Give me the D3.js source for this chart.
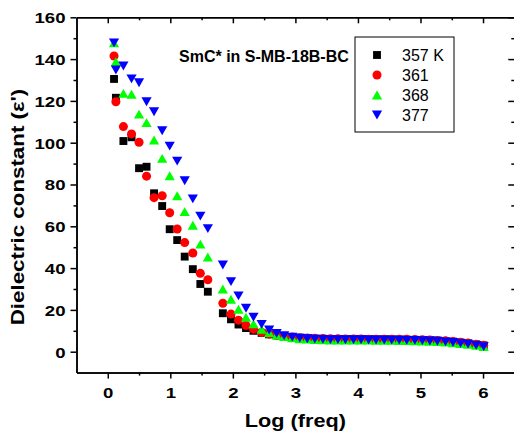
<!DOCTYPE html>
<html>
<head>
<meta charset="utf-8">
<script src="https://cdn.jsdelivr.net/npm/d3@7"></script>
<style>
  body { margin: 0; background: #fff; }
  svg { display: block; }
  text { font-family: Arial, "Liberation Sans", sans-serif; }
</style>
</head>
<body>
<div id="chart"></div>
<script>
const logFreq = [0.10, 0.13, 0.25, 0.38, 0.50, 0.62, 0.74, 0.87, 0.99, 1.11, 1.23, 1.36, 1.48, 1.60, 1.84, 1.97, 2.09, 2.21, 2.33, 2.46,
  2.58, 2.70, 2.82, 2.95, 3.07, 3.19, 3.31, 3.44, 3.56, 3.68, 3.80, 3.93, 4.05, 4.17, 4.29, 4.42, 4.54, 4.66, 4.78, 4.91,
  5.03, 5.15, 5.27, 5.40, 5.52, 5.64, 5.76, 5.89, 6.01]

const eps357 = [130.5, 121.5, 100.8, 102.6, 87.8, 88.5, 75.8, 69.7, 58.6, 53.4, 45.5, 39.5, 32.4, 28.7, 18.4, 15.5, 13.0, 11.3, 10.0, 9.0,
  8.3, 7.8, 7.3, 7.0, 6.7, 6.5, 6.3, 6.2, 6.1, 6.1, 6.0, 6.0, 6.0, 6.0, 5.9, 5.9, 5.9, 5.8, 5.8, 5.7,
  5.6, 5.5, 5.3, 5.0, 4.8, 4.4, 4.0, 3.5, 3.0]
const eps361 = [141.5, 119.6, 107.7, 104.2, 100.2, 84.0, 73.7, 74.6, 66.5, 58.7, 52.2, 47.2, 37.5, 34.4, 23.2, 18.0, 15.1, 12.6, 10.7, 9.3,
  8.4, 7.8, 7.3, 7.0, 6.7, 6.5, 6.4, 6.3, 6.2, 6.2, 6.1, 6.1, 6.1, 6.0, 6.0, 6.0, 5.9, 5.9, 5.9, 5.8,
  5.7, 5.6, 5.4, 5.2, 4.9, 4.5, 4.1, 3.6, 3.1]
const eps368 = [147.8, 138.8, 123.6, 123.2, 113.7, 109.6, 101.3, 92.5, 84.2, 74.6, 67.0, 60.5, 51.5, 45.3, 30.0, 25.1, 20.3, 16.5, 13.3, 10.7,
  9.1, 8.0, 7.2, 6.6, 6.2, 6.0, 5.8, 5.7, 5.6, 5.6, 5.5, 5.5, 5.5, 5.5, 5.4, 5.4, 5.4, 5.3, 5.3, 5.2,
  5.1, 5.0, 4.8, 4.6, 4.3, 3.9, 3.5, 3.0, 2.4]
const eps377 = [147.8, 134.8, 136.7, 130.5, 128.7, 119.6, 114.8, 105.7, 98.4, 91.2, 81.8, 73.1, 64.9, 58.9, 41.5, 33.5, 26.7, 20.8, 16.5, 13.1,
  10.4, 8.8, 7.7, 7.0, 6.5, 6.2, 6.0, 5.9, 5.8, 5.8, 5.7, 5.7, 5.7, 5.6, 5.6, 5.6, 5.5, 5.5, 5.4, 5.4,
  5.3, 5.1, 5.0, 4.7, 4.4, 4.0, 3.6, 3.0, 2.4]

const seriesNames = ['357 K', '361', '368', '377']
const seriesColors = ['#000000', '#ff0000', '#00ff00', '#0000ff']
const seriesShapes = ['square', 'circle', 'up', 'down']
const seriesValues = [eps357, eps361, eps368, eps377]

const xTicks = [0, 1, 2, 3, 4, 5, 6]
const yTicks = [0, 20, 40, 60, 80, 100, 120, 140, 160]
const xMinor = [0.5, 1.5, 2.5, 3.5, 4.5, 5.5]
const yMinor = [10, 30, 50, 70, 90, 110, 130, 150]

const W = 514, H = 436
const margin = {top: 17.3, right: -0.3, bottom: 63.4, left: 76.5}
const width = W - margin.left - margin.right
const height = H - margin.top - margin.bottom
const stretch = 1.24   // axis fonts in the original are horizontally stretched

const svg = d3.select('#chart').append('svg')
  .attr('width', W)
  .attr('height', H)

const g = svg.append('g')
  .attr('transform', `translate(${margin.left},${margin.top})`)

const x = d3.scaleLinear().domain([-0.5, 6.5]).range([0, width])
const y = d3.scaleLinear().domain([-10, 160]).range([height, 0])

// marker shapes
function markerPath(shape) {
  if (shape === 'square') return d3.symbol(d3.symbolSquare, 62)()
  if (shape === 'circle') return d3.symbol(d3.symbolCircle, 64)()
  const s = 10.2, h = s * 0.866
  if (shape === 'up') return `M0,${-h/2}L${s/2},${h/2}L${-s/2},${h/2}Z`
  return `M0,${h/2}L${s/2},${-h/2}L${-s/2},${-h/2}Z`
}

// points
seriesValues.forEach((vals, i) => {
  g.append('g').selectAll('path')
    .data(vals.map((v, j) => ({x: logFreq[j], y: v})))
    .enter().append('path')
    .attr('d', markerPath(seriesShapes[i]))
    .attr('transform', d => `translate(${x(d.x)},${y(d.y)})`)
    .attr('fill', seriesColors[i])
})

// axes
function styleAxis(sel) {
  sel.select('.domain').attr('stroke', '#000').attr('stroke-width', 1.5)
  sel.selectAll('.tick line').attr('stroke', '#000').attr('stroke-width', 1.5)
}

const bottomAxis = g.append('g').attr('transform', `translate(0,${height})`)
  .call(d3.axisBottom(x).tickValues(xTicks).tickSize(6).tickSizeOuter(0).tickFormat(d3.format('d')))
styleAxis(bottomAxis)
bottomAxis.selectAll('text')
  .attr('y', 25).attr('dy', 0)
  .attr('transform', `scale(${stretch},1)`)
  .attr('font-size', 15).attr('font-weight', 'bold').attr('fill', '#000')

const bottomMinor = g.append('g').attr('transform', `translate(0,${height})`)
  .call(d3.axisBottom(x).tickValues(xMinor).tickSize(3).tickSizeOuter(0).tickFormat(''))
styleAxis(bottomMinor)

const leftAxis = g.append('g')
  .call(d3.axisLeft(y).tickValues(yTicks).tickSize(6).tickSizeOuter(0))
styleAxis(leftAxis)
leftAxis.selectAll('text')
  .attr('x', 0).attr('dy', '0.36em')
  .attr('transform', `translate(-11,0) scale(${stretch},1)`)
  .attr('font-size', 15).attr('font-weight', 'bold').attr('fill', '#000')

const leftMinor = g.append('g')
  .call(d3.axisLeft(y).tickValues(yMinor).tickSize(3).tickSizeOuter(0).tickFormat(''))
styleAxis(leftMinor)

const topAxis = g.append('g')
  .call(d3.axisBottom(x).tickValues(xTicks).tickSize(6).tickSizeOuter(0).tickFormat(''))
styleAxis(topAxis)
const topMinor = g.append('g')
  .call(d3.axisBottom(x).tickValues(xMinor).tickSize(3).tickSizeOuter(0).tickFormat(''))
styleAxis(topMinor)

const rightAxis = g.append('g').attr('transform', `translate(${width},0)`)
  .call(d3.axisLeft(y).tickValues(yTicks).tickSize(6).tickSizeOuter(0).tickFormat(''))
styleAxis(rightAxis)
const rightMinor = g.append('g').attr('transform', `translate(${width},0)`)
  .call(d3.axisLeft(y).tickValues(yMinor).tickSize(3).tickSizeOuter(0).tickFormat(''))
styleAxis(rightMinor)

// axis titles
svg.append('text')
  .attr('transform', `translate(${margin.left + width / 2},426.5) scale(${stretch},1)`)
  .attr('text-anchor', 'middle')
  .attr('font-size', 17.5).attr('font-weight', 'bold')
  .text('Log (freq)')

svg.append('text')
  .attr('transform', `translate(23.5,207) rotate(-90) scale(${stretch},1)`)
  .attr('text-anchor', 'middle')
  .attr('font-size', 18).attr('font-weight', 'bold')
  .text('Dielectric constant (ε\')')

// annotation
svg.append('text')
  .attr('x', 179).attr('y', 62.3)
  .attr('font-size', 16).attr('font-weight', 'bold')
  .text('SmC* in S-MB-18B-BC')

// legend
const legend = svg.append('g').attr('transform', 'translate(355,37)')
legend.append('rect')
  .attr('width', 99).attr('height', 95)
  .attr('fill', 'none').attr('stroke', '#000').attr('stroke-width', 1)

seriesNames.forEach((name, i) => {
  const row = legend.append('g').attr('transform', `translate(0,${18 + i * 20})`)
  row.append('path')
    .attr('d', markerPath(seriesShapes[i]))
    .attr('transform', 'translate(22,0)')
    .attr('fill', seriesColors[i])
  row.append('text')
    .attr('x', 47).attr('y', 5.8)
    .attr('font-size', 16)
    .text(name)
})
</script>
</body>
</html>
